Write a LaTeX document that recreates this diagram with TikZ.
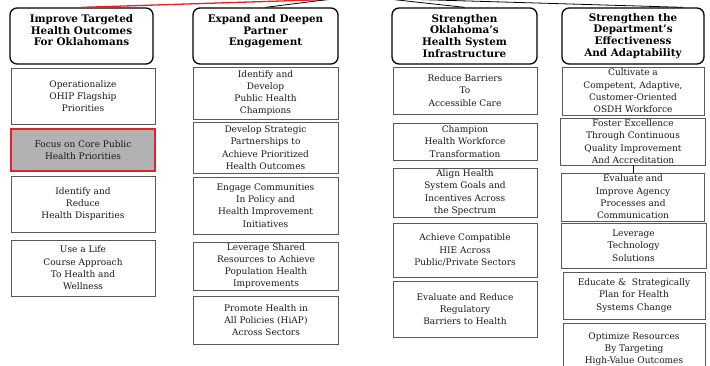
\documentclass[tikz,border=0pt]{standalone}
\usepackage{fontspec}
\setmainfont{DejaVu Serif}
\usetikzlibrary{positioning,calc}
\definecolor{corered}{RGB}{228,32,40}
\definecolor{coregray}{RGB}{178,178,181}

\begin{document}
\begin{tikzpicture}[x=1pt, y=-1pt,
    goal/.style={draw, rounded corners=7pt, line width=1.3pt, align=center, minimum width=143pt, minimum height=56pt, inner sep=1pt, font=\fontsize{10.4}{11.8}\selectfont\bfseries},
    obj/.style={draw=black!65, line width=0.8pt, align=center, minimum width=144pt, inner sep=1pt, text=black!90, font=\fontsize{9}{12.3}\selectfont},
    link/.style={line width=0.8pt}]
        \useasboundingbox (0,0) rectangle (710,365);
        \clip (0,0) rectangle (710,365);

        % goals
        \node [goal] (targeted) at (81.5,36) {Improve Targeted\\Health Outcomes\\For Oklahomans\\~};
        \node [goal, minimum width=145pt] (partner) at (265.5,36) {Expand and Deepen\\Partner\\Engagement\\~};
        \node [goal, minimum width=145pt] (infra) at (464.5,36) {Strengthen\\Oklahoma’s\\Health System\\Infrastructure};
        \node [goal, minimum width=142pt] (dept) at (633,36) {Strengthen the\\Department’s\\Effectiveness\\And Adaptability};

        % objectives, column 1
        \node [obj, minimum height=56pt] (ohip) at (83,96) {Operationalize\\OHIP Flagship\\Priorities};
        \node [obj, minimum height=42pt, draw=corered, line width=1.6pt, fill=coregray] (core) at (83,150) {Focus on Core Public\\Health Priorities};
        \node [obj, minimum height=56pt] (disparity) at (83,204) {Identify and\\Reduce\\Health Disparities};
        \node [obj, minimum height=56pt] (lifecourse) at (83,268) {Use a Life\\Course Approach\\To Health and\\Wellness};

        % objectives, column 2
        \node [obj, minimum width=145pt, minimum height=52pt] (champions) at (265.5,93) {Identify and\\Develop\\Public Health\\Champions};
        \node [obj, minimum width=145pt, minimum height=51pt] (strategic) at (265.5,147.5) {Develop Strategic\\Partnerships to\\Achieve Prioritized\\Health Outcomes};
        \node [obj, minimum width=145pt, minimum height=57pt] (communities) at (265.5,205.5) {Engage Communities\\In Policy and\\Health Improvement\\Initiatives};
        \node [obj, minimum width=145pt, minimum height=48pt] (shared) at (266,266) {Leverage Shared\\Resources to Achieve\\Population Health\\Improvements};
        \node [obj, minimum width=145pt, minimum height=48pt] (hiap) at (266,320) {Promote Health in\\All Policies (HiAP)\\Across Sectors};

        % objectives, column 3
        \node [obj, minimum height=47pt] (barriers) at (465,90.5) {Reduce Barriers\\To\\Accessible Care};
        \node [obj, minimum height=37pt] (workforce) at (465,141.5) {Champion\\Health Workforce\\Transformation};
        \node [obj, minimum height=49pt] (align) at (465,192.5) {Align Health\\System Goals and\\Incentives Across\\the Spectrum};
        \node [obj, minimum height=54pt] (hie) at (465,250) {Achieve Compatible\\HIE Across\\Public/Private Sectors};
        \node [obj, minimum height=56pt] (regulatory) at (465,309) {Evaluate and Reduce\\Regulatory\\Barriers to Health};

        % objectives, column 4
        \node [obj, minimum width=142pt, minimum height=48pt] (cultivate) at (633,91) {Cultivate a\\Competent, Adaptive,\\Customer-Oriented\\OSDH Workforce};
        \node [obj, minimum width=145pt, minimum height=47pt] (foster) at (633,141.5) {Foster Excellence\\Through Continuous\\Quality Improvement\\And Accreditation};
        \node [obj, minimum width=143pt, minimum height=48pt] (agency) at (633,197) {Evaluate and\\Improve Agency\\Processes and\\Communication};
        \node [obj, minimum width=145pt, minimum height=45pt] (technology) at (633.5,245.5) {Leverage\\Technology\\Solutions};
        \node [obj, minimum width=142pt, minimum height=47pt] (educate) at (634,295.5) {Educate \&\ \ Strategically\\Plan for Health\\Systems Change};
        \node [obj, minimum width=142pt, minimum height=52pt] (optimize) at (634,349) {Optimize Resources\\By Targeting\\High-Value Outcomes};

        % links from the plan above
        \coordinate (lefttop) at (328,-0.5);
        \coordinate (righttop) at (384,-1.5);
        \draw [link, draw=corered, line width=1.3pt] (lefttop) -- (targeted.north);
        \draw [link] (lefttop) -- (partner.north);
        \draw [link] (righttop) -- (infra.north);
        \draw [link] (righttop) -- ($(dept.north east)!0.3!(dept.north)$);
        \draw [link] (foster) -- (agency);
\end{tikzpicture}
\end{document}
